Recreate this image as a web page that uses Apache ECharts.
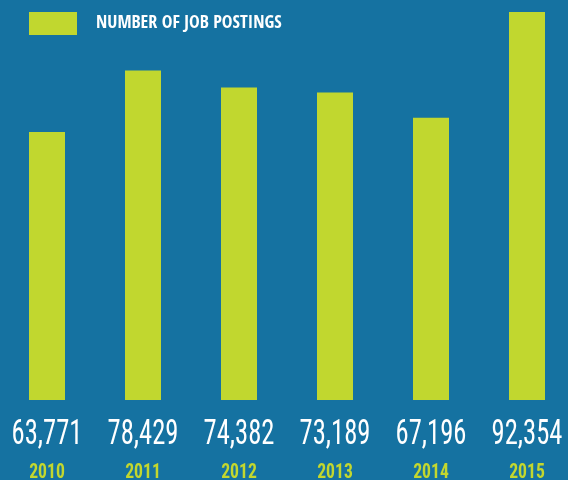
<!DOCTYPE html>
<html>
<head>
<meta charset="utf-8">
<script src="https://cdn.jsdelivr.net/npm/echarts@6/dist/echarts.min.js"></script>
<style>
html,body{margin:0;padding:0;background:#1572a1;}
#c{width:568px;height:480px;}
</style>
</head>
<body>
<div id="c"></div>
<script>
const years = ['2010','2011','2012','2013','2014','2015'];
const postings = [63771, 78429, 74382, 73189, 67196, 92354];
const seriesName = 'NUMBER OF JOB POSTINGS';

const chart = echarts.init(document.getElementById('c'));
const fmt = v => v.toLocaleString('en-US');
chart.setOption({
  backgroundColor: '#1572a1',
  animation: false,
  legend: {
    left: 29, top: 12, padding: 0,
    itemWidth: 48, itemHeight: 23,
    icon: 'rect',
    data: [seriesName],
    textStyle: {
      color: '#ffffff', fontFamily: 'Open Sans Condensed', fontWeight: 'bold',
      fontSize: 18, padding: [0, 0, 0, 14]
    }
  },
  grid: { left: -1, width: 576, top: 12, bottom: 80, containLabel: false, outerBoundsMode: 'none' },
  xAxis: {
    type: 'category',
    data: years,
    axisLine: { show: false },
    axisTick: { show: false },
    axisLabel: { show: false }
  },
  yAxis: {
    type: 'value', min: 0, max: 92354, show: false,
    splitLine: { show: false }
  },
  series: [{
    name: seriesName,
    type: 'bar',
    data: postings,
    barWidth: 36,
    itemStyle: { color: '#c1d72f' }
  }, {
    type: 'custom',
    silent: true,
    legendHoverLink: false,
    data: postings.map((v, i) => [i, v]),
    renderItem: function (params, api) {
      const i = api.value(0);
      const base = api.coord([i, 0]);
      return {
        type: 'group',
        children: [{
          type: 'text',
          x: base[0], y: base[1] + 35,
          scaleX: 0.76,
          style: {
            text: fmt(api.value(1)),
            fill: '#ffffff',
            font: '35px "Roboto Condensed"',
            align: 'center', verticalAlign: 'middle'
          }
        }, {
          type: 'text',
          x: base[0], y: base[1] + 73,
          scaleX: 0.84,
          style: {
            text: years[i],
            fill: '#c3d72e',
            font: 'bold 21px "Roboto Condensed"',
            align: 'center', verticalAlign: 'middle'
          }
        }]
      };
    }
  }]
});
</script>
</body>
</html>
